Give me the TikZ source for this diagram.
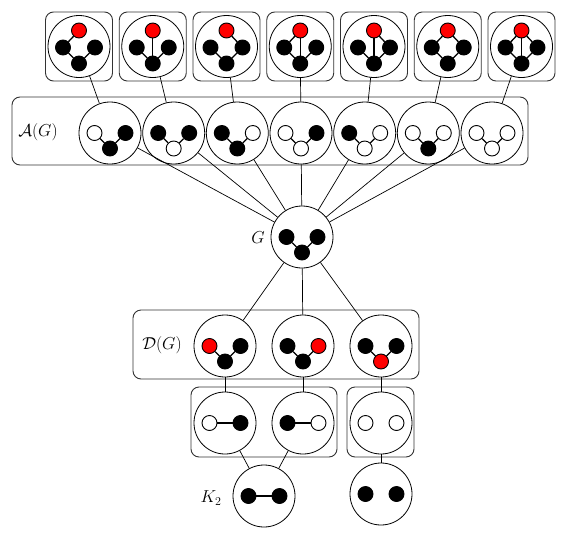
\documentclass[tikz,border=0pt]{standalone}
\usepackage{amsmath}
\usepackage{amssymb}
\usepackage{tikz}
\tikzset{
  bag/.style={circle,draw,line width=0.8pt,minimum size=62pt,inner sep=0pt},
  vx/.style={circle,draw,line width=0.9pt,minimum size=15pt,inner sep=0pt},
  vb/.style={vx,fill=black},
  vw/.style={vx,fill=white},
  vr/.style={vx,fill=red},
  grp/.style={draw=black!80,line width=0.9pt,rounded corners=8pt},
  gedge/.style={line width=1.3pt},
  link/.style={line width=0.7pt}
}
\newcommand{\pth}[6]{%
  \node[bag] (#1) at (#2,#3) {};
  \node[#4] (#1l) at ({#2-15.5},#3) {};
  \node[#5] (#1r) at ({#2+15.5},#3) {};
  \node[#6] (#1b) at (#2,{#3+15.5}) {};
  \draw[gedge] (#1l) -- (#1b) -- (#1r);
}
\newcommand{\duo}[5]{%
  \node[bag] (#1) at (#2,#3) {};
  \node[#4] (#1l) at ({#2-15.5},#3) {};
  \node[#5] (#1r) at ({#2+15.5},#3) {};
}
\newcommand{\ext}[3]{%
  \draw[grp] ({#2-33.5},12) rectangle ({#2+33.5},81);
  \node[bag] (#1) at (#2,46.5) {};
  \node[vr] (#1t) at (#2,30.5) {};
  \node[vb] (#1l) at ({#2-16},47.5) {};
  \node[vb] (#1r) at ({#2+16},47.5) {};
  \node[vb] (#1b) at (#2,63.5) {};
  \draw[gedge] (#1l) -- (#1b) -- (#1r);
  \foreach \n in {#3} {\draw[gedge] (#1t) -- (#1\n);}
}

\begin{document}
\begin{tikzpicture}[x=1pt,y=-1pt,font=\LARGE]
  \useasboundingbox (0,0) rectangle (565,533);
  \ext{t1}{79}{l}
  \ext{t2}{152.75}{b}
  \ext{t3}{226.5}{r}
  \ext{t4}{300.25}{l,b}
  \ext{t5}{374}{b,r}
  \ext{t6}{447.75}{l,r}
  \ext{t7}{521.5}{l,b,r}

  \draw[grp] (12,97) rectangle (528,165);
  \node (lA) at (38,132) {$\mathcal{A}(G)$};
  \pth{a1}{110}{133}{vw}{vb}{vb}
  \pth{a2}{173.7}{133}{vb}{vb}{vw}
  \pth{a3}{237.3}{133}{vb}{vw}{vb}
  \pth{a4}{301}{133}{vw}{vb}{vw}
  \pth{a5}{364.7}{133}{vb}{vw}{vw}
  \pth{a6}{428.3}{133}{vw}{vw}{vb}
  \pth{a7}{492}{133}{vw}{vw}{vw}

  \node (lG) at (258,238) {$G$};
  \pth{g}{302}{237}{vb}{vb}{vb}

  \draw[grp] (133,310) rectangle (419,379);
  \node (lD) at (162,345) {$\mathcal{D}(G)$};
  \pth{d1}{225}{346}{vr}{vb}{vb}
  \pth{d2}{303}{346}{vb}{vr}{vb}
  \pth{d3}{381}{346}{vb}{vb}{vr}

  \draw[grp] (191,387) rectangle (337,457);
  \draw[grp] (347,387) rectangle (414,457);
  \duo{c1}{225}{423}{vw}{vb}
  \duo{c2}{303}{423}{vb}{vw}
  \duo{c3}{381}{423}{vw}{vw}
  \draw[gedge] (c1l) -- (c1r);
  \draw[gedge] (c2l) -- (c2r);

  \node (lK) at (211,498) {$K_2$};
  \duo{k}{264}{496}{vb}{vb}
  \draw[gedge] (kl) -- (kr);
  \duo{e}{381}{494}{vb}{vb}

  \foreach \i in {1,...,7} {
    \draw[link] (t\i) -- (a\i);
    \draw[link] (a\i) -- (g);
  }
  \foreach \i in {1,2,3} {
    \draw[link] (g) -- (d\i);
    \draw[link] (d\i) -- (c\i);
  }
  \draw[link] (c1) -- (k);
  \draw[link] (c2) -- (k);
  \draw[link] (c3) -- (e);
\end{tikzpicture}
\end{document}
